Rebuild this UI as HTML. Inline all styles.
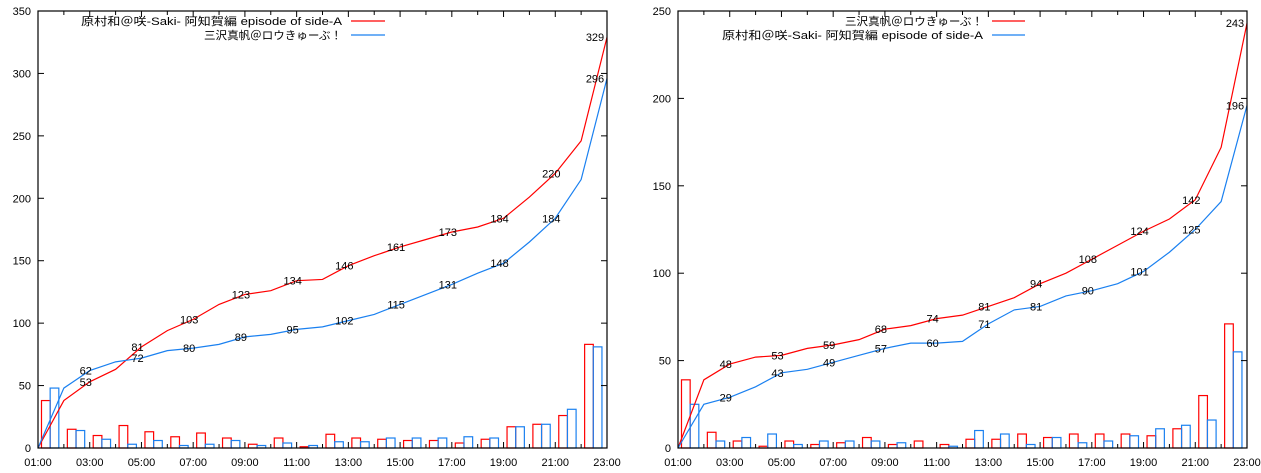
<!DOCTYPE html>
<html><head><meta charset="utf-8"><style>
html,body{margin:0;padding:0;background:#fff;}
svg{display:block;font-family:"Liberation Sans","Noto Sans CJK JP",sans-serif;}
</style></head><body>
<svg id="c" width="1261" height="473" viewBox="0 0 1261 473" xmlns="http://www.w3.org/2000/svg"></svg>
<script>
// Left chart data (hourly counts per series)
const leftRedName = "原村和＠咲-Saki- 阿知賀編 episode of side-A";
const leftBlueName = "三沢真帆＠ロウきゅーぶ！";
const leftRed  = [38,15,10,18,13,9,12,8,3,8,1,11,8,7,6,6,4,7,17,19,26,83];
const leftBlue = [48,14,7,3,6,2,3,6,2,4,2,5,5,8,8,8,9,8,17,19,31,81];
const leftYTicks = [0,50,100,150,200,250,300,350];
// Right chart data
const rightRedName = "三沢真帆＠ロウきゅーぶ！";
const rightBlueName = "原村和＠咲-Saki- 阿知賀編 episode of side-A";
const rightRed  = [39,9,4,1,4,2,3,6,2,4,2,5,5,8,6,8,8,8,7,11,30,71];
const rightBlue = [25,4,6,8,2,4,4,4,3,0,1,10,8,2,6,3,4,7,11,13,16,55];
const rightYTicks = [0,50,100,150,200,250];
const xTickLabels = ["01:00","03:00","05:00","07:00","09:00","11:00","13:00","15:00","17:00","19:00","21:00","23:00"];

const NS="http://www.w3.org/2000/svg";
const svg=document.getElementById('c');
function mk(tag,attrs,parent){const e=document.createElementNS(NS,tag);for(const k in attrs)e.setAttribute(k,attrs[k]);(parent||svg).appendChild(e);return e;}

function drawChart(id,x0,x1,yTop,yBot,ymax,yTicks,red,blue,redName,blueName,legTextEnd,legLine0,legLine1){
  const g=mk('g',{});
  
  
  const hours=22;
  const xs=h=>x0+(x1-x0)*h/hours;
  const ys=v=>yBot-(yBot-yTop)*v/ymax;
  const hw=(x1-x0)/hours, bw=hw*0.335;
  const RED="#ff0000", BLUE="#1a80f0";
  // bars
  red.forEach((v,i)=>{
    const c=xs(i+0.47);
    const r=mk('rect',{x:c-bw,y:ys(v),width:bw,height:yBot-ys(v),fill:'none',stroke:RED,'stroke-width':1.2},g);
    
    
  });
  blue.forEach((v,i)=>{
    const c=xs(i+0.47);
    const r=mk('rect',{x:c,y:ys(v),width:bw,height:yBot-ys(v),fill:'none',stroke:BLUE,'stroke-width':1.2},g);
    
    
  });
  // cumulative lines
  function line(arr,col,nm){
    let cum=0,pts=[[xs(0),ys(0)]];const cs=[];
    arr.forEach((v,i)=>{cum+=v;cs.push(cum);pts.push([xs(i+1),ys(cum)]);});
    const p=mk('polyline',{points:pts.map(p=>p.join(',')).join(' '),fill:'none',stroke:col,'stroke-width':1.2},g);
    
    
    cs.forEach((c,i)=>{
      if(i%2===1||i===cs.length-1){
        const t=mk('text',{x:xs(i+1)-(i===cs.length-1?12:4),y:ys(c)+(i===cs.length-1?4:4),'font-size':11,'text-anchor':'middle',fill:'#000'},g);
        t.textContent=c;
        
        
      }
    });
  }
  line(red,RED,'red-cumulative-line');
  line(blue,BLUE,'blue-cumulative-line');
  // frame
  const f=mk('rect',{x:x0,y:yTop,width:x1-x0,height:yBot-yTop,fill:'none',stroke:'#000','stroke-width':1.2},g);
  
  
  // y ticks
  yTicks.forEach(v=>{
    const y=ys(v);
    mk('line',{x1:x0,x2:x0+6,y1:y,y2:y,stroke:'#000'},g);
    mk('line',{x1:x1,x2:x1-6,y1:y,y2:y,stroke:'#000'},g);
    const t=mk('text',{x:x0-7,y:y+4,'font-size':11,'text-anchor':'end',fill:'#000'},g);
    t.textContent=v;
    
    
  });
  // x ticks
  for(let h=0;h<=hours;h++){
    const x=xs(h),len=h%2===0?6:4;
    mk('line',{x1:x,x2:x,y1:yBot,y2:yBot-len,stroke:'#000'},g);
    mk('line',{x1:x,x2:x,y1:yTop,y2:yTop+len,stroke:'#000'},g);
  }
  xTickLabels.forEach((l,i)=>{
    const t=mk('text',{x:xs(i*2),y:466,'font-size':11,'text-anchor':'middle',fill:'#000'},g);
    t.textContent=l;
    
    
  });
  // legend
  [[redName,RED,21,true],[blueName,BLUE,35,false]].forEach(([n,col,y])=>{
    const len=n.length>20?261:138;
    const t=mk('text',{x:legTextEnd,y:y+4,'font-size':11,'text-anchor':'end',fill:'#000',textLength:len,lengthAdjust:'spacingAndGlyphs'},g);
    t.textContent=n;
    
    
    mk('line',{x1:legLine0,x2:legLine1,y1:y,y2:y,stroke:col,'stroke-width':1.2},g);
  });
}
drawChart('left-chart',38,607,11,448,350,leftYTicks,leftRed,leftBlue,leftRedName,leftBlueName,342,351,385);
drawChart('right-chart',678,1247,11,448,250,rightYTicks,rightRed,rightBlue,rightRedName,rightBlueName,983,992,1025);
</script>
</body></html>
